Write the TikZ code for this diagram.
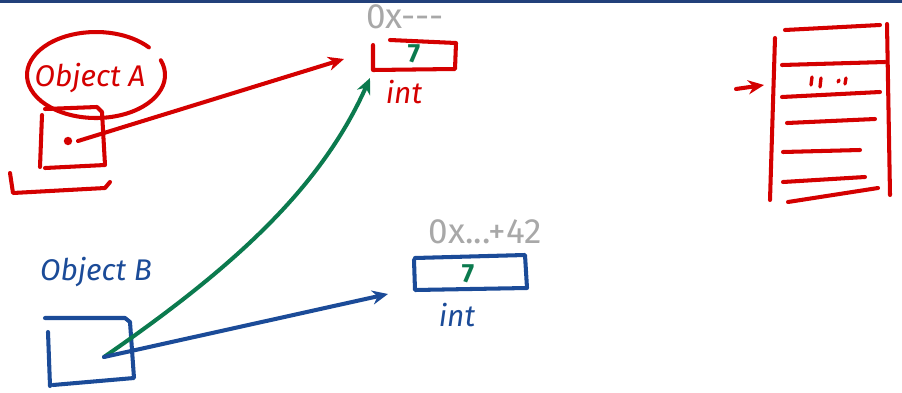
\documentclass[tikz,border=0pt]{standalone}
\usepackage{fontspec}
\setmainfont{Fira Sans}
\usetikzlibrary{arrows.meta}
\definecolor{inkred}{HTML}{D40000}
\definecolor{inkblue}{HTML}{1B4B98}
\definecolor{inkgreen}{HTML}{0B7A4E}
\definecolor{inkgray}{HTML}{A8A8A8}
\definecolor{barblue}{HTML}{22407A}
\tikzset{
  pen/.style={line width=2.3pt, line cap=round, line join=round},
  redpen/.style={pen, draw=inkred},
  bluepen/.style={pen, draw=inkblue},
  greenpen/.style={pen, draw=inkgreen},
  label/.style={inner sep=0pt, font=\fontsize{17}{17}\selectfont\itshape},
  addrlabel/.style={inner sep=0pt, text=inkgray, font=\fontsize{20}{20}\selectfont},
  digit/.style={inner sep=0pt, text=inkgreen, font=\fontsize{15}{15}\selectfont\bfseries},
  tip/.style={-{Stealth[length=9pt,width=8pt]}}
}
\begin{document}
\begin{tikzpicture}[x=0.02cm,y=-0.02cm]
\useasboundingbox (0,0) rectangle (902,392);
\fill[barblue] (0,0) rectangle (902,3);

% ---- object A: ellipse, label, box, bracket
\coordinate (ellA) at (96,75);
\draw[redpen] (ellA) ++(-20:69 and 43) arc[start angle=-20, end angle=320, x radius=69, y radius=43];
\node[label, text=inkred] (objA) at (90,78) {Object A};
\draw[redpen] (42,115) -- (40,167);
\draw[redpen] (45,109) -- (97,107) -- (102,112) -- (105,165) -- (45,168);
\coordinate (dotA) at (68,141);
\fill[inkred] (dotA) circle (2.4pt);
\draw[redpen] (10,173) -- (13,193) -- (105,188) -- (110,182);

% ---- int cell at 0x---
\node[addrlabel] (addr1) at (405,17) {0x-{}-{}-};
\draw[redpen] (373,45) -- (373,70) -- (455,69) -- (456,43) -- (390,40);
\node[digit] (seven1) at (414,54) {7};
\node[label, text=inkred] (int1) at (404,92) {int};
\coordinate (cell1in) at (344,59);
\coordinate (cell1low) at (370,78);

% ---- int cell at 0x...+42
\node[addrlabel] (addr2) at (485,232) {0x...+42};
\draw[bluepen] (414,260) -- (415,290) -- (527,288) -- (525,255) -- (415,258);
\node[digit] (seven2) at (468,274) {7};
\node[label, text=inkblue] (int2) at (457,315) {int};
\coordinate (cell2in) at (388,294);

% ---- object B: label and box
\node[label, text=inkblue] (objB) at (96,272) {Object B};
\draw[bluepen] (45,318) -- (125,318) -- (130,322) -- (134,378) -- (53,385);
\draw[bluepen] (48,332) -- (50,386);
\coordinate (dotB) at (104,357);

% ---- references
\draw[redpen, tip] (dotA) ++(10,0) -- (cell1in);
\draw[greenpen, tip] (dotB) .. controls (230,270) and (320,190) .. (cell1low);
\draw[bluepen, tip] (dotB) -- (cell2in);

% ---- memory column
\draw[redpen] (775,38) -- (770,200);
\draw[redpen] (887,24) -- (890,195);
\draw[redpen] (785,30) -- (880,25);
\draw[redpen] (782,65) -- (885,62);
\draw[redpen] (782,97) -- (880,92);
\draw[redpen] (787,123) -- (875,119);
\draw[redpen] (783,152) -- (860,150);
\draw[redpen] (783,182) -- (865,177);
\draw[redpen] (788,202) -- (878,188);
\foreach \x/\a/\b in {812/77/85, 821/78/87, 839/80/82, 846/78/84}
  \draw[redpen, line width=1.9pt] (\x,\a) -- (\x-1,\b);
\coordinate (memin) at (764,85);
\coordinate (memtail) at (736,89);
\draw[redpen, tip] (memtail) -- (memin);
\end{tikzpicture}
\end{document}
